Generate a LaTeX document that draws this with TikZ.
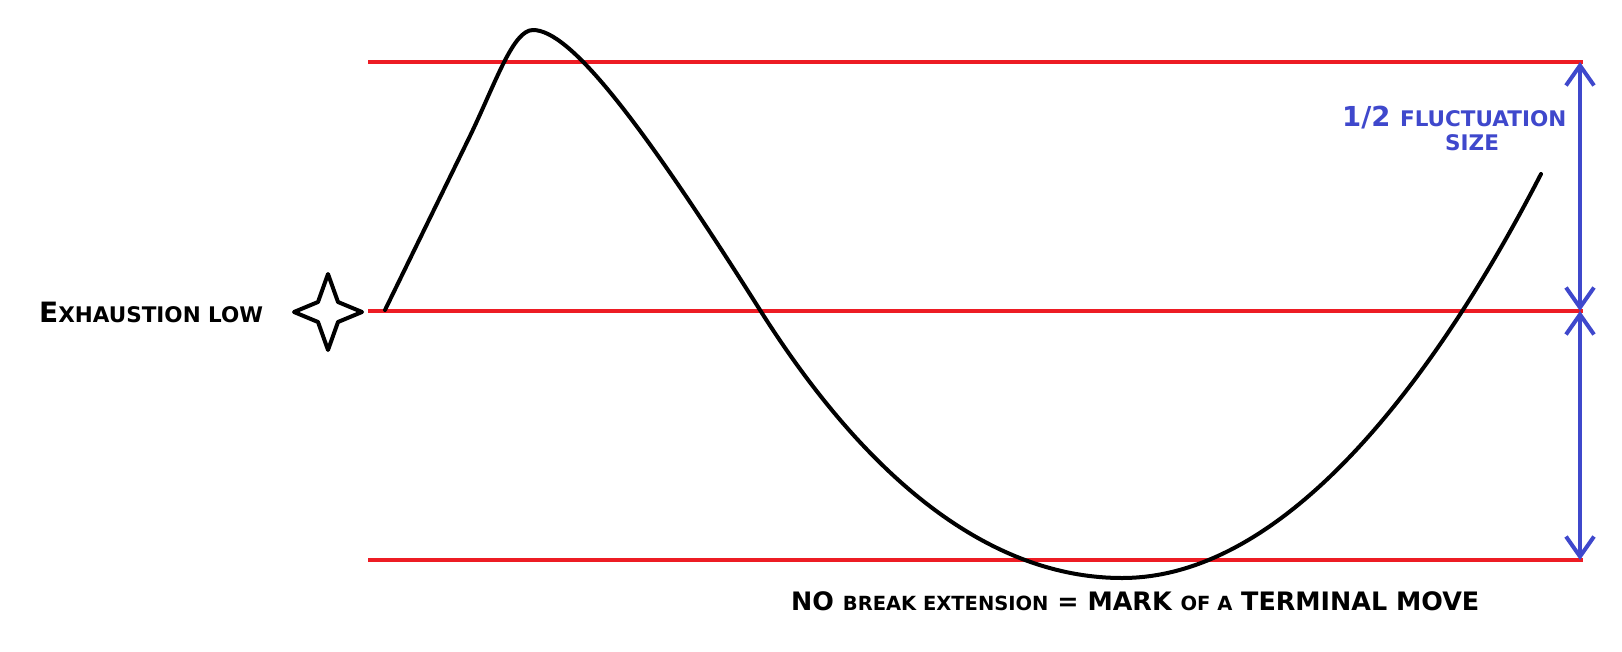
\documentclass[tikz,border=0pt]{standalone}
\usepackage{fontspec}
\setmainfont{DejaVu Sans}
\usetikzlibrary{positioning, arrows.meta}
\definecolor{levelred}{RGB}{237,28,36}
\definecolor{sizeblue}{RGB}{63,72,204}
\newcommand{\lowcaps}[2]{{\fontsize{#1}{#1}\selectfont\MakeUppercase{#2}}}

\tikzset{
  level/.style={draw=levelred, line width=4pt},
  sizearrow/.style={draw=sizeblue, line width=4pt,
    {Straight Barb[length=20pt, width=28pt]}-{Straight Barb[length=20pt, width=28pt]}},
  price/.style={draw=black, line width=4pt, line join=round, line cap=round},
  tag/.style={inner sep=0pt, font=\bfseries}
}

\begin{document}
\begin{tikzpicture}[x=1pt, y=-1pt]
    \useasboundingbox (0,0) rectangle (1622,651);

    % the three levels
    \coordinate (topL) at (368,62);
    \coordinate (topR) at (1583,62);
    \coordinate (midL) at (368,311);
    \coordinate (midR) at (1583,311);
    \coordinate (botL) at (368,560);
    \coordinate (botR) at (1583,560);
    \draw[level] (topL) -- (topR);
    \draw[level] (midL) -- (midR);
    \draw[level] (botL) -- (botR);

    % half fluctuation arrows
    \coordinate (armTop) at (1580,62);
    \coordinate (armMid) at (1580,311);
    \coordinate (armBot) at (1580,560);
    \draw[sizearrow] (armTop) -- (armMid);
    \draw[sizearrow] (armMid) -- (armBot);

    % price swing
    \coordinate (low) at (385,310);
    \coordinate (peak) at (533,30);
    \coordinate (cross) at (760,310);
    \coordinate (trough) at (1122,578);
    \coordinate (last) at (1541,174);
    \draw[price] (low) -- (470,136) .. controls (496,82) and (513,30) .. (peak)
        .. controls (570,30) and (640,120) .. (cross)
        .. controls (880,500) and (1005,578) .. (trough)
        .. controls (1290,578) and (1440,370) .. (last);

    % star mark
    \coordinate (mark) at (328,312);
    \draw[price, shift={(mark)}] (0,-38) -- (10,-10) -- (34,0) -- (10,10)
        -- (0,38) -- (-10,10) -- (-34,0) -- (-10,-10) -- cycle;

    % texts
    \node[tag, anchor=base west, font=\bfseries\fontsize{28}{28}\selectfont]
        (exhaust) at (39,322) {E\lowcaps{21.5}{xhaustion low}};
    \node[tag, anchor=base west, font=\bfseries\fontsize{25.4}{26}\selectfont]
        (terminal) at (791,610)
        {NO \lowcaps{19.5}{break extension} = MARK \lowcaps{19.5}{of a} TERMINAL MOVE};
    \node[tag, anchor=base west, text=sizeblue, font=\bfseries\fontsize{27.5}{28}\selectfont]
        (fluct) at (1342,126) {1/2 \lowcaps{21.5}{fluctuation}};
    \node[tag, anchor=base west, text=sizeblue]
        (size) at ([xshift=103pt, yshift=-24pt]fluct.base west) {\lowcaps{21.5}{size}};
\end{tikzpicture}
\end{document}
